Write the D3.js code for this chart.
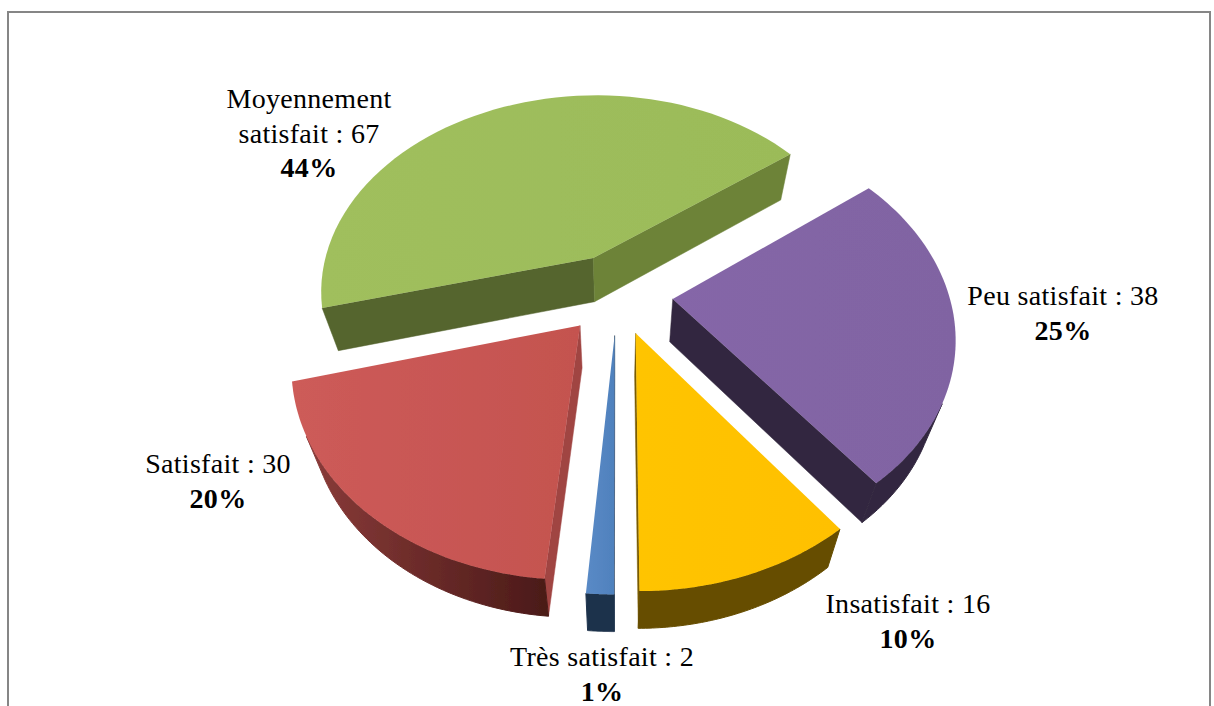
<!DOCTYPE html>
<html>
<head>
<meta charset="utf-8">
<script src="https://cdn.jsdelivr.net/npm/d3@7"></script>
<style>
html, body { margin: 0; padding: 0; background: #fff; }
svg { display: block; }
text { font-family: "Liberation Serif", serif; font-size: 28px; letter-spacing: 0.3px; fill: #000; text-anchor: middle; }
.pct { font-weight: bold; }
</style>
</head>
<body>
<svg id="chart" width="1214" height="706"></svg>
<script>
// data, in the order of the slices clockwise from 6 o'clock
const categories = ['Très satisfait', 'Satisfait', 'Moyennement satisfait', 'Peu satisfait', 'Insatisfait'];
const counts = [2, 30, 67, 38, 16];
const percents = ['1%', '20%', '44%', '25%', '10%'];

const labelLines = [['Très satisfait : 2'], ['Satisfait : 30'], ['Moyennement', 'satisfait : 67'], ['Peu satisfait : 38'], ['Insatisfait : 16']];
const labelAnchors = [[602, 666], [218, 473], [309, 108], [1063, 305], [908, 613]];

const topColors = [['#5a8ac6', '#4f81bd'], ['#cd5b59', '#c4534f'], ['#a0bf5d', '#9bbb59'], ['#8566a8', '#8064a2'], ['#ffc400', '#ffc000']];
const rimColors = [['#1f334c', '#1f334c'], ['#8a3b39', '#4a1a18'], ['#55652f', '#55652f'], ['#32273f', '#32273f'], ['#664d00', '#664d00']];
const startWallColors = ['#1f334c', '#a04442', '#55652f', '#32273f', '#664d00'];
const endWallColors = ['#1f334c', '#a04442', '#6d8339', '#32273f', '#7a5c00'];

const CX = 617, CY = 293.5;
const RADIUS = 276, EXPLODE = 56;
const SQUASH = 0.726, PERSPECTIVE = 0.0006;
const DEPTH = 43, BOTTOM_SHRINK = 0.945;
const ARC_STEPS = 60;
const LINE_STEP = 34.5;

const svg = d3.select('#chart');
const defs = svg.append('defs');
const line = d3.line();

defs.append('filter').attr('id', 'soft')
    .attr('x', '-5%').attr('y', '-5%').attr('width', '110%').attr('height', '110%')
    .append('feGaussianBlur').attr('stdDeviation', 0.45);

// a point on the pie plane: right = px, towards viewer = front, level 0 top face / 1 bottom face
function project(px, front, level) {
    const s = 1 / (1 - front * PERSPECTIVE);
    const shrink = level ? BOTTOM_SHRINK : 1;
    return [
        CX + px * s * shrink,
        CY + front * SQUASH * s * shrink + DEPTH * level * s
    ];
}

function slicePoint(slice, r, angle, level) {
    const mid = (slice.startAngle + slice.endAngle) / 2;
    const px = EXPLODE * Math.sin(mid) + r * Math.sin(angle);
    const front = -EXPLODE * Math.cos(mid) - r * Math.cos(angle);
    return project(px, front, level);
}

function addGradient(id, colors) {
    const g = defs.append('linearGradient').attr('id', id)
        .attr('x1', '0%').attr('x2', '100%').attr('y1', '0%').attr('y2', '0%');
    g.append('stop').attr('offset', '0%').attr('stop-color', colors[0]);
    g.append('stop').attr('offset', '100%').attr('stop-color', colors[1]);
}

const slices = d3.pie().sort(null).startAngle(Math.PI).endAngle(3 * Math.PI)(counts);

// back slices first so the front ones paint over them
const drawOrder = [2, 3, 1, 0, 4];
const pieLayer = svg.append('g').attr('filter', 'url(#soft)');

drawOrder.forEach(i => {
    const slice = slices[i];
    const angles = d3.range(ARC_STEPS + 1).map(k =>
        slice.startAngle + (slice.endAngle - slice.startAngle) * k / ARC_STEPS);
    const group = pieLayer.append('g');

    addGradient('top' + i, topColors[i]);
    addGradient('rim' + i, rimColors[i]);

    const topArc = angles.map(a => slicePoint(slice, RADIUS, a, 0));
    const bottomArc = angles.map(a => slicePoint(slice, RADIUS, a, 1));
    const apexTop = slicePoint(slice, 0, 0, 0);
    const apexBottom = slicePoint(slice, 0, 0, 1);

    // only the walls turned towards the camera are painted
    const startWall = [apexTop, topArc[0], bottomArc[0], apexBottom];
    const endWall = [apexTop, topArc[ARC_STEPS], bottomArc[ARC_STEPS], apexBottom];
    if (d3.polygonArea(startWall) > 0) {
        group.append('path').attr('d', line(startWall) + 'Z')
            .attr('fill', startWallColors[i])
            .attr('stroke', startWallColors[i]).attr('stroke-width', 0.5);
    }
    if (d3.polygonArea(endWall) < 0) {
        group.append('path').attr('d', line(endWall) + 'Z')
            .attr('fill', endWallColors[i])
            .attr('stroke', endWallColors[i]).attr('stroke-width', 0.5);
    }

    const facing = d3.range(ARC_STEPS).filter(k => d3.polygonArea(
        [topArc[k], topArc[k + 1], bottomArc[k + 1], bottomArc[k]]) > 0);
    if (facing.length) {
        const from = d3.min(facing), to = d3.max(facing) + 1;
        const rimTop = topArc.slice(from, to + 1);
        const rimBottom = bottomArc.slice(from, to + 1).reverse();
        group.append('path')
            .attr('d', line(rimTop.concat(rimBottom)) + 'Z')
            .attr('fill', `url(#rim${i})`)
            .attr('stroke', `url(#rim${i})`).attr('stroke-width', 1);
    }

    group.append('path')
        .attr('d', line([apexTop].concat(topArc)) + 'Z')
        .attr('fill', `url(#top${i})`);
});

// frame, open at the bottom as in the cropped original
svg.append('path')
    .attr('d', line([[8, 706], [8, 12], [1210, 12], [1210, 706]]))
    .attr('fill', 'none')
    .attr('stroke', '#868686')
    .attr('stroke-width', 2);

const labels = svg.append('g');
categories.forEach((name, i) => {
    const [x, y] = labelAnchors[i];
    const t = labels.append('text').attr('aria-label', name);
    labelLines[i].forEach((txt, k) => {
        t.append('tspan').attr('x', x).attr('y', y + k * LINE_STEP).text(txt);
    });
    t.append('tspan').attr('class', 'pct')
        .attr('x', x).attr('y', y + labelLines[i].length * LINE_STEP).text(percents[i]);
});
</script>
</body>
</html>
